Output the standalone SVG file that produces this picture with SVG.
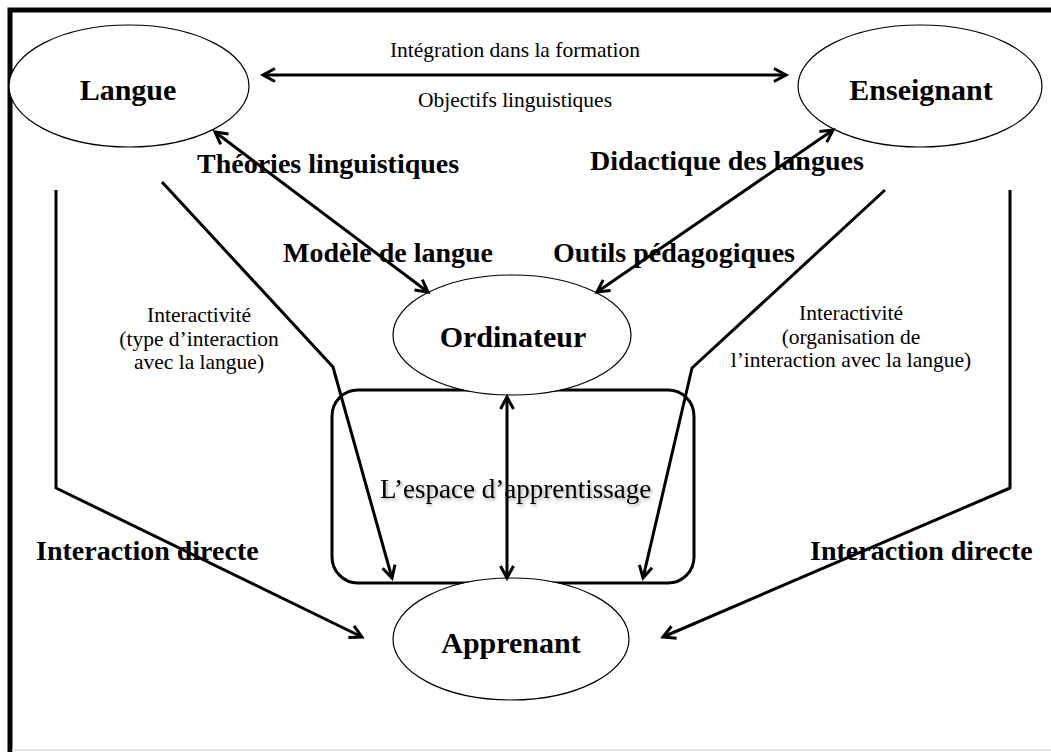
<svg xmlns="http://www.w3.org/2000/svg" width="1051" height="752" viewBox="0 0 1051 752">
<style>
.node{fill:#fff;stroke:#000;stroke-width:1.2}
.nl{font-family:"Liberation Serif","Times New Roman",serif;font-weight:bold;font-size:30px;text-anchor:middle;fill:#000}
.bl{font-family:"Liberation Serif","Times New Roman",serif;font-weight:bold;font-size:28px;fill:#000}
.rl{font-family:"Liberation Serif","Times New Roman",serif;font-size:21.5px;fill:#000}
.c{fill:none;stroke:#000;stroke-width:3;stroke-linejoin:round}
.ab{marker-end:url(#ah);marker-start:url(#ah)}
.ae{marker-end:url(#ah)}
</style>
<defs>
<marker id="ah" viewBox="-14 -8 16 16" markerWidth="16" markerHeight="16" refX="0" refY="0" orient="auto-start-reverse" markerUnits="userSpaceOnUse" overflow="visible">
<path d="M-12,-6.5 L0,0 L-12,6.5" fill="none" stroke="#000" stroke-width="3" stroke-linejoin="miter"/>
</marker>
<filter id="sh" x="-10%" y="-30%" width="120%" height="160%">
<feDropShadow dx="1.5" dy="2" stdDeviation="1.5" flood-color="#000" flood-opacity="0.35"/>
</filter>
</defs>
<rect x="0" y="0" width="1051" height="752" fill="#fff"/>
<g id="frame">
<path d="M10,752 V10 H1051" fill="none" stroke="#000" stroke-width="5"/>
<line x1="12" y1="750" x2="1051" y2="750" stroke="#e4e4e4" stroke-width="2"/>
</g>
<g id="espace">
<rect x="332" y="390" width="362" height="193" rx="26" ry="26" fill="none" stroke="#000" stroke-width="3"/>
<text class="rl" x="380" y="498" style="font-size:27px" filter="url(#sh)">L’espace d’apprentissage</text>
</g>
<g id="langue">
<ellipse class="node" cx="129" cy="86" rx="120" ry="61"/>
<text class="nl" x="128" y="100">Langue</text>
</g>
<g id="enseignant">
<ellipse class="node" cx="920" cy="86" rx="122" ry="61"/>
<text class="nl" x="921" y="100">Enseignant</text>
</g>
<g id="ordinateur">
<ellipse class="node" cx="512" cy="335" rx="119" ry="60"/>
<text class="nl" x="513" y="347">Ordinateur</text>
</g>
<g id="apprenant">
<ellipse class="node" cx="511" cy="639" rx="118" ry="61"/>
<text class="nl" x="511" y="653">Apprenant</text>
</g>
<g id="labels">
<text class="rl" x="515" y="57" text-anchor="middle">Intégration dans la formation</text>
<text class="rl" x="515" y="107" text-anchor="middle">Objectifs linguistiques</text>
<text class="bl" x="197" y="173">Théories linguistiques</text>
<text class="bl" x="283" y="262">Modèle de langue</text>
<text class="bl" x="590" y="170">Didactique des langues</text>
<text class="bl" x="553" y="262">Outils pédagogiques</text>
<text class="rl" text-anchor="middle"><tspan x="199" y="322">Interactivité</tspan><tspan x="199" y="346">(type d’interaction</tspan><tspan x="199" y="369">avec la langue)</tspan></text>
<text class="rl" text-anchor="middle"><tspan x="851" y="320">Interactivité</tspan><tspan x="851" y="344">(organisation de</tspan><tspan x="851" y="367">l’interaction avec la langue)</tspan></text>
<text class="bl" x="36" y="560">Interaction directe</text>
<text class="bl" x="810" y="560">Interaction directe</text>
</g>
<g id="connectors">
<line class="c ab" x1="263" y1="75" x2="786" y2="75"/>
<line class="c ab" x1="215" y1="132" x2="428" y2="292"/>
<line class="c ab" x1="833" y1="130" x2="597" y2="292"/>
<line class="c ab" x1="507" y1="397" x2="507" y2="578"/>
<polyline class="c ae" points="56,190 56,488 362,637"/>
<polyline class="c ae" points="1010,190 1010,488 663,637"/>
<polyline class="c ae" points="162,182 333,367 392,578"/>
<polyline class="c ae" points="885,190 692,368 643,578"/>
</g>
</svg>
